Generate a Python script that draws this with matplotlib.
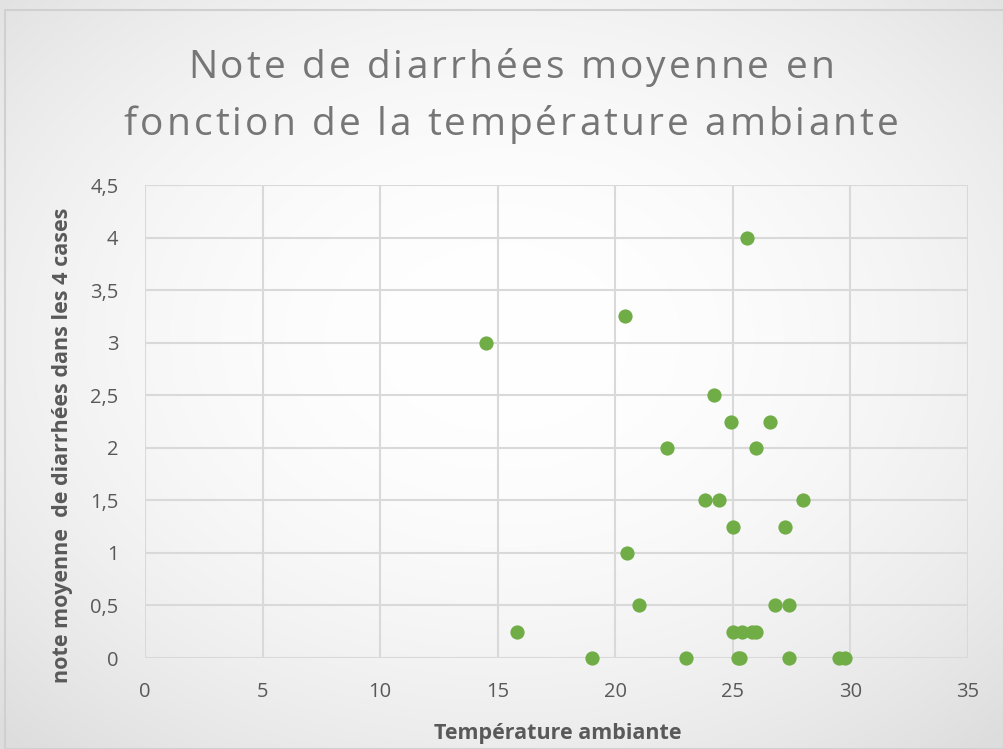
import numpy as np
import matplotlib
matplotlib.use("Agg")
import matplotlib.pyplot as plt
from matplotlib.patches import Rectangle
from matplotlib.font_manager import FontProperties

temperature = [25.6, 20.4, 14.5, 24.2, 24.9, 26.6, 22.2, 26.0, 23.8, 24.4, 28.0,
               25.0, 27.2, 20.5, 21.0, 26.8, 27.4, 15.8, 25.0, 25.4, 25.8, 26.0,
               19.0, 23.0, 25.2, 25.3, 27.4, 29.5, 29.75]
note = [4.0, 3.25, 3.0, 2.5, 2.25, 2.25, 2.0, 2.0, 1.5, 1.5, 1.5,
        1.25, 1.25, 1.0, 0.5, 0.5, 0.5, 0.25, 0.25, 0.25, 0.25, 0.25,
        0, 0, 0, 0, 0, 0, 0]
xticks = [0, 5, 10, 15, 20, 25, 30, 35]
yticks = [0, 0.5, 1, 1.5, 2, 2.5, 3, 3.5, 4, 4.5]
ytick_labels = ["0", "0,5", "1", "1,5", "2", "2,5", "3", "3,5", "4", "4,5"]
title_lines = ["Note de diarrhées moyenne en", "fonction de la température ambiante"]
xlabel = "Température ambiante"
ylabel = "note moyenne  de diarrhées dans les 4 cases"

W, H = 1004, 749
fig = plt.figure(figsize=(W / 100, H / 100), dpi=100)

# background radial gradient
bg = fig.add_axes([0, 0, 1, 1], zorder=-10)
yy, xx = np.mgrid[0:H, 0:W]
r = np.sqrt(((xx - W * 0.5) / (W * 0.6)) ** 2 + ((yy - H * 0.45) / (H * 0.6)) ** 2)
val = 1.0 - 0.09 * np.clip(r, 0, 1.2) ** 2
img = np.dstack([val, val, val])
bg.imshow(img, extent=[0, W, H, 0], aspect="auto")
bg.add_patch(Rectangle((5, 10), W - 5, H - 10, fill=False, edgecolor="#D0D0D0", lw=1.5))
bg.set_xlim(0, W)
bg.set_ylim(H, 0)
bg.axis("off")

left, right, top, bottom = 145, 968, 185, 658
ax = fig.add_axes([left / W, 1 - bottom / H, (right - left) / W, (bottom - top) / H])
ax.patch.set_alpha(0)
ax.scatter(temperature, note, s=105, color="#70AD47", zorder=3, clip_on=False, linewidths=0)
ax.set_xlim(0, 35)
ax.set_ylim(0, 4.5)
ax.set_xticks(xticks)
ax.set_yticks(yticks)
ax.set_yticklabels(ytick_labels)
ax.grid(True, color="#D9D9D9", lw=1.5)
ax.set_axisbelow(True)
for s in ax.spines.values():
    s.set_visible(False)
ax.tick_params(length=0, labelsize=14.5, labelcolor="#595959")
ax.tick_params(axis="x", pad=17)
ax.tick_params(axis="y", pad=19)
for lab in ax.get_xticklabels() + ax.get_yticklabels():
    lab.set_fontfamily("Open Sans")

fig.text(558 / W, 1 - 733 / H, xlabel, ha="center", va="center", fontsize=15.5,
         fontweight="bold", color="#595959", fontfamily="Open Sans")
fig.text(63 / W, 1 - 445 / H, ylabel, ha="center", va="center", rotation=90, fontsize=15.5,
         fontweight="bold", color="#595959", fontfamily="Open Sans")

# title with letter tracking
renderer = fig.canvas.get_renderer()
tprop = FontProperties(family="Open Sans", size=28)
bar_w = renderer.get_text_width_height_descent("|", tprop, ismath=False)[0]


def advance(s):
    if not s:
        return 0.0
    return renderer.get_text_width_height_descent(s + "|", tprop, ismath=False)[0] - bar_w


tracking = 3.1
cx = 511
for line, base_y in zip(title_lines, [78, 135]):
    total = advance(line) + tracking * (len(line) - 1)
    x0 = cx - total / 2
    for i, ch in enumerate(line):
        if ch == " ":
            continue
        x = x0 + advance(line[:i]) + tracking * i
        fig.text(x / W, 1 - base_y / H, ch, ha="left", va="baseline", fontproperties=tprop,
                 color="#767676")

fig.savefig("out.png", dpi=100)
